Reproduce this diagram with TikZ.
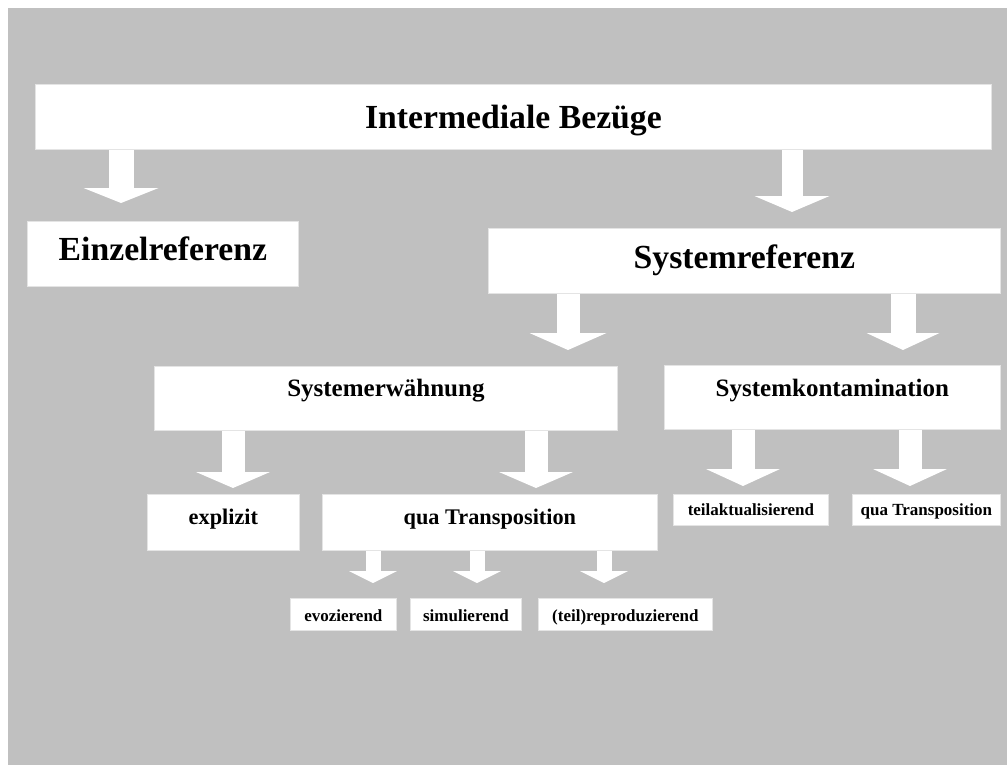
\documentclass[tikz,border=0pt]{standalone}
\usepackage{fontspec}
\setmainfont{Liberation Serif}
\usetikzlibrary{arrows.meta}
\definecolor{bggray}{HTML}{C0C0C0}
\definecolor{edgegray}{HTML}{E4E4E4}
\tikzset{
  box/.style={fill=white, draw=edgegray, line width=0.8pt, inner sep=0pt, anchor=north west},
  bx/.style n args={5}{minimum width=#1pt, text height=#2pt, text depth=#3pt, font=\fontsize{#4}{#5}\selectfont\bfseries},
  barrow/.style n args={3}{draw=white, line width=#1pt, -{Triangle[width=#2pt,length=#3pt,line width=0pt]}},
}
\begin{document}
\begin{tikzpicture}[x=1pt,y=-1pt]
\useasboundingbox (0,0) rectangle (1007,765);
\fill[white] (0,0) rectangle (1007,765);
\fill[bggray] (8,8) rectangle (1007,765);

\node[box, bx={956}{44}{21}{33.7}{36}] (top) at (35,84) {Intermediale Bezüge};
\node[box, bx={271}{39}{26}{33.7}{36}] (einzel) at (27,221) {Einzelreferenz};
\node[box, bx={512}{40}{25}{33.7}{36}] (sysref) at (488,228) {Systemreferenz};
\node[box, bx={463}{30}{34}{25}{28}] (syserw) at (154,366) {Systemerwähnung};
\node[box, bx={336}{31}{33}{25}{28}] (syskon) at (664,365) {Systemkontamination};
\node[box, bx={152}{30}{26}{22.3}{25}] (expl) at (147,494) {explizit};
\node[box, bx={335}{30}{26}{22.3}{25}] (quaA) at (322,494) {qua Transposition};
\node[box, bx={155}{21}{10}{17}{19}] (teil) at (673,494) {teilaktualisierend};
\node[box, bx={148}{21}{10}{17}{19}] (quaB) at (852,494) {qua Transposition};
\node[box, bx={106}{23}{9}{17}{19}] (evoz) at (290,598) {evozierend};
\node[box, bx={111}{23}{9}{17}{19}] (simu) at (410,598) {simulierend};
\node[box, bx={174}{23}{9}{17}{19}] (repr) at (538,598) {(teil)reproduzierend};

\draw[barrow={25}{75}{15}, shorten >=18pt] (top.south -| 121,0) -- (einzel.north -| 121,0);
\draw[barrow={21}{75}{16}, shorten >=16pt] (top.south -| 792,0) -- (sysref.north -| 792,0);
\draw[barrow={23}{77}{17}, shorten >=16pt] (sysref.south -| 568,0) -- (syserw.north -| 568,0);
\draw[barrow={25}{73}{17}, shorten >=15pt] (sysref.south -| 903,0) -- (syskon.north -| 903,0);
\draw[barrow={23}{74}{16}, shorten >=6pt] (syserw.south -| 233,0) -- (expl.north -| 233,0);
\draw[barrow={23}{74}{16}, shorten >=6pt] (syserw.south -| 536,0) -- (quaA.north -| 536,0);
\draw[barrow={23}{74}{17}, shorten >=8pt] (syskon.south -| 743,0) -- (teil.north -| 743,0);
\draw[barrow={23}{74}{17}, shorten >=8pt] (syskon.south -| 910,0) -- (quaB.north -| 910,0);
\draw[barrow={15}{48}{12}, shorten >=15pt] (quaA.south -| 373,0) -- (evoz.north -| 373,0);
\draw[barrow={15}{48}{12}, shorten >=15pt] (quaA.south -| 477,0) -- (simu.north -| 477,0);
\draw[barrow={15}{48}{12}, shorten >=15pt] (quaA.south -| 604,0) -- (repr.north -| 604,0);
\end{tikzpicture}
\end{document}
